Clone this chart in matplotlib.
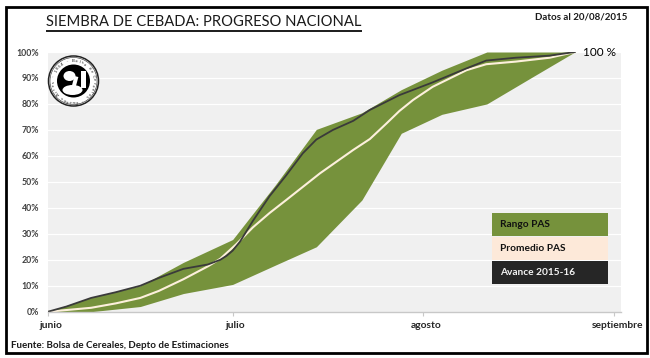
# Siembra de cebada: progreso nacional
import matplotlib
matplotlib.use('Agg')
import matplotlib.pyplot as plt
from matplotlib.patches import Circle, Ellipse, Rectangle
from matplotlib.transforms import ScaledTranslation
import numpy as np

plt.rcParams['font.family'] = ['Lato', 'DejaVu Sans']

# Days since June 1st, values in %
band_days = [0, 7, 15, 22, 30, 37, 43.6, 51, 57.4, 64, 71.3, 79, 85.6]
rango_max = [0, 5.5, 10, 19, 27.8, 49, 70.2, 76.6, 85.5, 93, 100, 100, 100]
rango_min = [0, 0, 2, 7, 10.5, 18, 25, 43, 68.7, 76, 80, 90.8, 100]

promedio_days = [0, 7, 11, 15, 18, 22, 26, 28, 30.6, 33.3, 36, 38.7, 44.2, 49.6, 52.3, 55,
                 57.1, 59.3, 62.5, 68, 71.2, 76, 81.5, 85.6]
promedio = [0, 1.5, 3.2, 5.3, 8, 12.5, 17.5, 20.4, 26, 32.5, 38, 43, 53.3, 62.3, 66.5, 72.5,
            77.3, 81.5, 86.6, 93, 95.3, 96.3, 97.8, 100]

avance_days = [0, 3, 7, 11, 15, 18, 22, 26, 28, 29, 30, 31.2, 33.3, 36, 38.7, 41.4, 43.6, 46.3,
               49.6, 52.3, 55.5, 57.1, 62.5, 68, 71.2, 76, 81.5, 85.6]
avance = [0, 2, 5.3, 7.5, 10, 13, 16.5, 18.2, 20, 21.5, 23.5, 27, 35, 44.5, 52.5, 61, 66.3, 70,
          73.5, 77.7, 81.5, 83.4, 88.3, 93.7, 96.7, 97.8, 98.6, 100]

month_days = [0, 30, 61, 92]
month_labels = ['junio', 'julio', 'agosto', 'septiembre']
y_ticks = list(range(0, 101, 10))
y_labels = ['%d%%' % v for v in y_ticks]
legend_labels = ['Rango PAS', 'Promedio PAS', 'Avance 2015-16']

W, H = 650, 358
fig = plt.figure(figsize=(W / 100, H / 100), dpi=100, facecolor='white')

# Main chart
ax = fig.add_axes([48 / W, 1 - 311.7 / H, (621 - 48) / W, (311.7 - 52) / H])
ax.set_facecolor('#f0f0f0')
ax.set_xlim(0, 93.1)
ax.set_ylim(0, 100)
ax.grid(axis='y', color='white', lw=0.9)
ax.set_axisbelow(True)
for s in ['top', 'right', 'left']:
    ax.spines[s].set_visible(False)
ax.spines['bottom'].set_color('#c8c8c8')
ax.spines['bottom'].set_linewidth(1)

ax.fill_between(band_days, rango_min, rango_max, color='#76923c', lw=0)
ax.plot(promedio_days, promedio, color='#fdf0dc', lw=1.5, solid_joinstyle='round')
ax.plot(avance_days, avance, color='#3a3a3a', lw=1.3, solid_joinstyle='round')

ax.set_yticks(y_ticks)
ax.set_yticklabels(y_labels, fontsize=6.3, color='#404040', fontweight='bold')
ax.set_xticks(month_days)
ax.set_xticklabels(month_labels, fontsize=7.4, color='#262626', fontweight='bold')
ax.tick_params(axis='y', length=0, pad=6.5)
ax.tick_params(axis='x', length=3, color='#c8c8c8', pad=4)
shift = ScaledTranslation(3 / 100, 0, fig.dpi_scale_trans)
for lab in ax.get_xticklabels():
    lab.set_transform(lab.get_transform() + shift)

ax.annotate('100 %', (avance_days[-1], avance[-1]), xytext=(6, 0), textcoords='offset points',
            fontsize=8.5, color='black', va='center')

# Overlay in pixel coordinates: frame, title, legend, logo
over = fig.add_axes([0, 0, 1, 1], facecolor='none')
over.set_xlim(0, W)
over.set_ylim(H, 0)
over.axis('off')

over.add_patch(Rectangle((5.5, 7), 641, 346, fill=False, ec='black', lw=2))

over.text(46, 22, 'SIEMBRA DE CEBADA: PROGRESO NACIONAL', fontsize=10.6,
          color='#1a1a1a', va='center', ha='left')
over.plot([46, 361], [29.5, 29.5], color='#1a1a1a', lw=0.7)
over.plot([46, 361], [31.3, 31.3], color='#1a1a1a', lw=0.7)

over.text(627, 17, 'Datos al 20/08/2015', fontsize=7, fontweight='bold',
          color='#1a1a1a', ha='right', va='center')
over.text(11, 345, 'Fuente: Bolsa de Cereales, Depto de Estimaciones', fontsize=7,
          fontweight='bold', color='#1a1a1a', ha='left', va='center')

# Legend boxes
box_colors = ['#76923c', '#fde9d9', '#262626']
text_colors = ['#111111', '#111111', '#f2f2f2']
box_tops = [213, 237, 261]
for lab, c, tc, t in zip(legend_labels, box_colors, text_colors, box_tops):
    over.add_patch(Rectangle((492, t), 116, 23, fc=c, ec='none'))
    over.text(500, t + 11.5, lab, fontsize=7.3, fontweight='bold', color=tc, va='center')

# Logo
cx, cy = 73.5, 81
over.add_patch(Circle((cx, cy), 25, fc='white', ec='#222222', lw=1.1))
over.add_patch(Circle((cx, cy), 23.5, fc='none', ec='#222222', lw=0.4))
over.add_patch(Circle((cx, cy), 16.5, fc='black', ec='none'))
over.add_patch(Ellipse((cx - 4, cy - 5), 12, 10, fc='white', ec='none'))
over.add_patch(Ellipse((cx - 1, cy + 9), 20, 10, fc='white', ec='none'))
over.add_patch(Rectangle((cx + 7, cy - 10), 5, 17, fc='white', ec='none'))
over.add_patch(Rectangle((cx + 1, cy - 5), 4, 12, angle=15, fc='white', ec='none'))
ring = 'Bolsa de Cereales - Buenos Aires - 1854 - '
for i, ch in enumerate(ring):
    a = -np.pi / 2 + 2 * np.pi * i / len(ring)
    over.text(cx + 20 * np.cos(a), cy + 20 * np.sin(a), ch, fontsize=3.2, color='#222222',
              rotation=-np.degrees(a) - 90, ha='center', va='center')

fig.savefig('out.png', dpi=100)
